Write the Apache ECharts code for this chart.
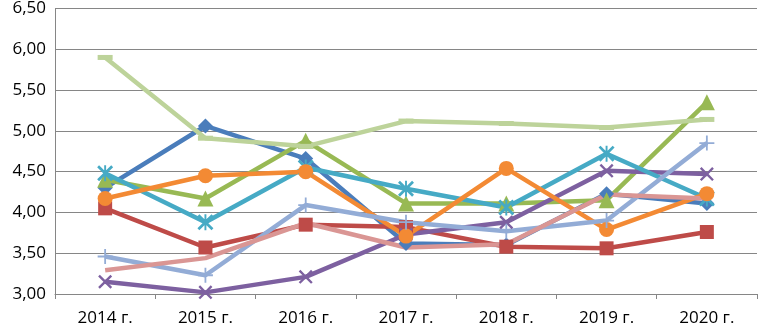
<!DOCTYPE html>
<html>
<head>
    <meta charset="utf-8">
    <title>chart</title>
    <script src="https://cdn.jsdelivr.net/npm/echarts@6/dist/echarts.min.js"></script>
    <style>
        html, body { margin: 0; padding: 0; background: #fff; }
    </style>
</head>
<body>
<div id="chart1" style="width: 758px; height: 328px;"></div>
<script>
    var years = ['2014 г.', '2015 г.', '2016 г.', '2017 г.', '2018 г.', '2019 г.', '2020 г.'];

    var sBlue = [4.30, 5.06, 4.66, 3.62, 3.60, 4.23, 4.11];
    var sRed = [4.05, 3.57, 3.85, 3.82, 3.58, 3.56, 3.76];
    var sGreen = [4.40, 4.17, 4.88, 4.11, 4.11, 4.15, 5.35];
    var sPurple = [3.15, 3.02, 3.21, 3.73, 3.88, 4.51, 4.47];
    var sTeal = [4.48, 3.88, 4.55, 4.29, 4.06, 4.72, 4.17];
    var sOrange = [4.17, 4.45, 4.50, 3.71, 4.54, 3.79, 4.23];
    var sLightBlue = [3.46, 3.23, 4.09, 3.88, 3.77, 3.90, 4.85];
    var sPink = [3.29, 3.44, 3.87, 3.57, 3.61, 4.22, 4.17];
    var sLightGreen = [5.90, 4.91, 4.81, 5.12, 5.09, 5.04, 5.14];

    var xPath = 'path://M0,1.2L1.2,0L5,3.8L8.8,0L10,1.2L6.2,5L10,8.8L8.8,10L5,6.2L1.2,10L0,8.8L3.8,5Z';
    var starPath = 'path://M0,1.2L1.2,0L5,3.8L8.8,0L10,1.2L6.2,5L10,8.8L8.8,10L5,6.2L1.2,10L0,8.8L3.8,5Z M4.4,0L5.6,0L5.6,10L4.4,10Z';
    var plusPath = 'path://M4.4,0H5.6V4.4H10V5.6H5.6V10H4.4V5.6H0V4.4H4.4Z';
    var dashPath = 'path://M0,0H10V10H0Z';

    function mk(name, data, color, symbol, size) {
        return {
            name: name,
            type: 'line',
            data: data,
            symbol: symbol,
            symbolSize: size,
            showSymbol: symbol !== 'none',
            lineStyle: { color: color, width: 4.5 },
            itemStyle: { color: color },
            emphasis: { disabled: true }
        };
    }

    var Mychart1 = echarts.init(document.getElementById('chart1'));
    var option1 = {
        animation: false,
        grid: { left: 55, right: 1, top: 7, bottom: 34 },
        xAxis: {
            type: 'category',
            boundaryGap: true,
            data: years,
            axisLine: { lineStyle: { color: '#868686', width: 1 } },
            axisTick: { show: true, length: 5, lineStyle: { color: '#868686' } },
            axisLabel: { color: '#000', fontSize: 17, fontFamily: 'Open Sans', margin: 16 }
        },
        yAxis: {
            type: 'value',
            min: 3,
            max: 6.5,
            interval: 0.5,
            axisLine: { show: true, lineStyle: { color: '#868686' } },
            axisTick: { show: false },
            splitLine: { lineStyle: { color: '#868686', width: 1 } },
            axisLabel: {
                color: '#000', fontSize: 17, fontFamily: 'Open Sans', margin: 9,
                formatter: function (v) { return v.toFixed(2).replace('.', ','); }
            }
        },
        series: [
            mk('s1', sBlue, '#4A7DBB', 'diamond', 15),
            mk('s2', sRed, '#BE4B48', 'rect', 14),
            mk('s3', sGreen, '#98B954', 'triangle', 16),
            mk('s4', sPurple, '#7D60A0', xPath, 14),
            mk('s5', sTeal, '#46AAC5', starPath, 16),
            mk('s6', sOrange, '#F38A34', 'circle', 15),
            mk('s7', sLightBlue, '#93ACD6', plusPath, 15),
            mk('s8', sPink, '#DA9694', 'none', 0),
            mk('s9', sLightGreen, '#BDD39A', dashPath, [15, 5])
        ]
    };
    Mychart1.setOption(option1);
</script>
</body>
</html>
